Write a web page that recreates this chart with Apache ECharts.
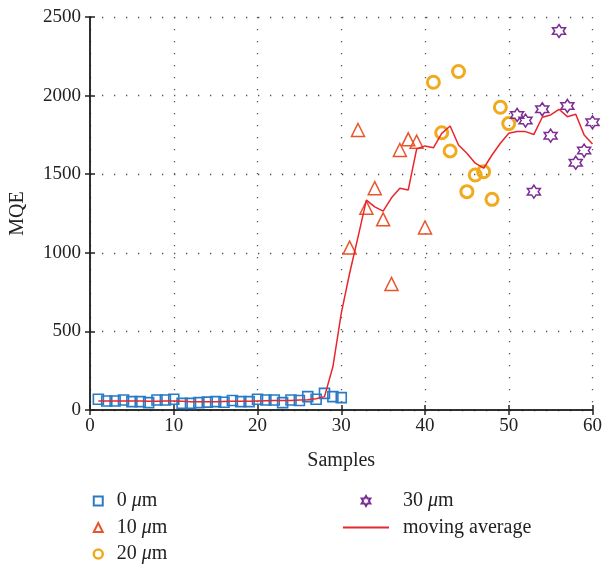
<!DOCTYPE html>
<html>
<head>
<meta charset="utf-8">
<script src="https://cdn.jsdelivr.net/npm/echarts@6/dist/echarts.min.js"></script>
<style>
  html, body { margin: 0; padding: 0; background: #fff; }
  #chart { width: 605px; height: 567px; }
</style>
</head>
<body>
<div id="chart"></div>
<script>
// 数据
var xTicks = [0, 10, 20, 30, 40, 50, 60];
var yTicks = [0, 500, 1000, 1500, 2000, 2500];

// 0 um, samples 1-30
var mqe0 = [68, 57, 57, 64, 53, 53, 47, 64, 64, 68, 42, 42, 47, 50, 53, 49, 60, 53, 53, 68,
            64, 64, 47, 64, 60, 85, 68, 106, 85, 79];
// 10 um, samples 31-40
var mqe10 = [1033, 1781, 1287, 1411, 1213, 802, 1654, 1722, 1707, 1161];
// 20 um, samples 41-50
var mqe20 = [2085, 1764, 1648, 2153, 1389, 1495, 1516, 1340, 1926, 1822];
// 30 um, samples 51-60
var mqe30 = [1877, 1841, 1389, 1913, 1745, 2411, 1934, 1573, 1650, 1830];
// moving average, samples 1-60
var movingAvg = [58, 57, 57, 57, 57, 57, 56, 56, 57, 57, 55, 53, 52, 52, 53, 54, 55, 55, 56, 58,
                 59, 60, 60, 61, 63, 65, 72, 85, 275, 615,
                 870, 1100, 1335, 1292, 1265, 1350, 1410, 1400, 1660, 1680,
                 1668, 1760, 1807, 1686, 1633, 1570, 1538, 1622, 1697, 1760,
                 1771, 1771, 1753, 1862, 1877, 1913, 1866, 1881, 1750, 1692];

var seriesNames = ['0 μm', '10 μm', '20 μm', '30 μm', 'moving average'];
var colors = ['#2a7bc3', '#e8552c', '#f0aa1e', '#7b2d94', '#e8262b'];

var font = 'Liberation Serif';

function toPairs(values, start) {
    var out = [];
    for (var i = 0; i < values.length; i++) {
        out.push([start + i, values[i]]);
    }
    return out;
}

// 六角星
var starPath = 'path://M0 -10 L2.887 -5 L8.66 -5 L5.774 0 L8.66 5 L2.887 5 L0 10 L-2.887 5 L-8.66 5 L-5.774 0 L-8.66 -5 L-2.887 -5 Z';

function scatter(name, values, start, symbol, size, color, bw) {
    return {
        name: name,
        type: 'scatter',
        xAxisIndex: 0,
        yAxisIndex: 0,
        symbol: symbol,
        symbolSize: size,
        itemStyle: { color: 'rgba(255,255,255,0)', borderColor: color, borderWidth: bw, opacity: 1 },
        data: toPairs(values, start),
        z: 3
    };
}

var dotted = { color: '#555', width: 1.3, type: [1.3, 10.7] };
var axisColor = '#222';

var chart = echarts.init(document.getElementById('chart'));

function legendFmt(name) {
    return name.replace('μ', '{i|μ}');
}
function legendText(padLeft) {
    return {
        fontFamily: font, fontSize: 20, color: axisColor, lineHeight: 22,
        padding: [0, 0, 0, padLeft],
        rich: { i: { fontFamily: font, fontSize: 20, fontStyle: 'italic', color: axisColor } }
    };
}

var option = {
    animation: false,
    backgroundColor: '#fff',
    grid: { left: 89, right: 12, top: 17, bottom: 157 },
    legend: [{
        data: [seriesNames[0], seriesNames[1], { name: seriesNames[2], itemStyle: { borderWidth: 2.5 } }],
        orient: 'vertical',
        left: 92.5, top: 490, padding: 0,
        itemWidth: 9, itemHeight: 9, itemGap: 4.5,
        formatter: legendFmt,
        textStyle: legendText(9)
    }, {
        data: [seriesNames[3], { name: seriesNames[4], itemStyle: { opacity: 0 } }],
        orient: 'vertical',
        left: 342, top: 490, padding: 0,
        itemWidth: 46, itemHeight: 10, itemGap: 4.5,
        formatter: legendFmt,
        textStyle: legendText(9)
    }],
    xAxis: [{
        type: 'value',
        min: xTicks[0], max: xTicks[xTicks.length - 1], interval: 10,
        name: 'Samples', nameLocation: 'middle', nameGap: 41,
        nameTextStyle: { fontFamily: font, fontSize: 20, color: axisColor },
        axisLine: { lineStyle: { color: axisColor, width: 1.5 } },
        axisTick: { inside: true, length: 5, lineStyle: { color: axisColor, width: 1.5 } },
        axisLabel: { fontFamily: font, fontSize: 19, color: axisColor, margin: 7 },
        splitLine: { show: true, lineStyle: dotted }
    }, {
        type: 'value', position: 'top',
        min: xTicks[0], max: xTicks[xTicks.length - 1], interval: 10,
        axisLine: { lineStyle: { color: axisColor, width: 1.5 } },
        axisTick: { inside: true, length: 5, lineStyle: { color: axisColor, width: 1.5 } },
        axisLabel: { show: false },
        splitLine: { show: false }
    }],
    yAxis: [{
        type: 'value',
        min: yTicks[0], max: yTicks[yTicks.length - 1], interval: 500,
        name: 'MQE', nameLocation: 'middle', nameGap: 62,
        nameTextStyle: { fontFamily: font, fontSize: 20, color: axisColor },
        axisLine: { show: true, lineStyle: { color: axisColor, width: 1.5 } },
        axisTick: { show: true, inside: true, length: 5, lineStyle: { color: axisColor, width: 1.5 } },
        axisLabel: {
            fontFamily: font, fontSize: 19, color: axisColor, margin: 9,
            formatter: function (v) { return String(v); }
        },
        splitLine: { show: true, lineStyle: dotted }
    }, {
        type: 'value', position: 'right',
        min: yTicks[0], max: yTicks[yTicks.length - 1], interval: 500,
        axisLine: { show: true, lineStyle: { color: axisColor, width: 1.5 } },
        axisTick: { show: true, inside: true, length: 5, lineStyle: { color: axisColor, width: 1.5 } },
        axisLabel: { show: false },
        splitLine: { show: false }
    }],
    series: [
        scatter(seriesNames[0], mqe0, 1, 'rect', 10, colors[0], 1.6),
        scatter(seriesNames[1], mqe10, 31, 'triangle', 13, colors[1], 1.5),
        scatter(seriesNames[2], mqe20, 41, 'circle', 12, colors[2], 3),
        scatter(seriesNames[3], mqe30, 51, starPath, 13, colors[3], 1.5),
        {
            name: seriesNames[4],
            type: 'line',
            xAxisIndex: 0,
            yAxisIndex: 0,
            symbol: 'none',
            showSymbol: false,
            lineStyle: { color: colors[4], width: 1.5 },
            itemStyle: { color: colors[4] },
            data: toPairs(movingAvg, 1),
            z: 4
        }
    ]
};

chart.setOption(option);
</script>
</body>
</html>
